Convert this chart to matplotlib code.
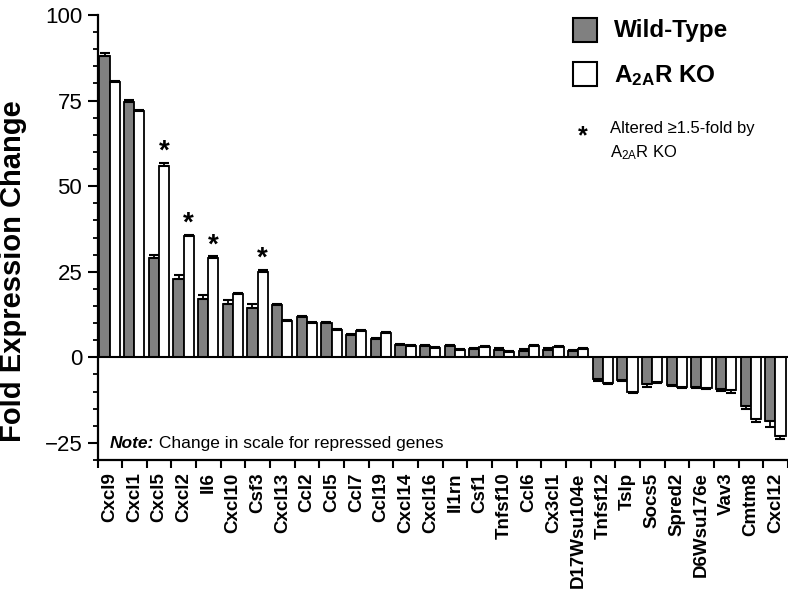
import numpy as np
import matplotlib
matplotlib.use("Agg")
import matplotlib.pyplot as plt
from matplotlib.patches import Rectangle
from matplotlib.ticker import MultipleLocator

plt.rcParams['font.family'] = ['Liberation Sans', 'DejaVu Sans']
plt.rcParams['mathtext.fontset'] = 'custom'
plt.rcParams['mathtext.rm'] = 'Liberation Sans'
plt.rcParams['mathtext.bf'] = 'Liberation Sans:bold'
plt.rcParams['mathtext.it'] = 'Liberation Sans:italic'

# data
genes = ['Cxcl9', 'Cxcl1', 'Cxcl5', 'Cxcl2', 'Il6', 'Cxcl10', 'Csf3', 'Cxcl13',
         'Ccl2', 'Ccl5', 'Ccl7', 'Ccl19', 'Cxcl14', 'Cxcl16', 'Il1rn', 'Csf1',
         'Tnfsf10', 'Ccl6', 'Cx3cl1', 'D17Wsu104e', 'Tnfsf12', 'Tslp', 'Socs5',
         'Spred2', 'D6Wsu176e', 'Vav3', 'Cmtm8', 'Cxcl12']
wt = [88, 74.5, 29, 23, 17, 15.7, 14.5, 15.3, 11.7, 10, 6.6, 5.4, 3.6, 3.4,
      3.2, 2.5, 2.2, 1.7, 2.2, 1.7, -6.3, -6.6, -7.8, -8.0, -8.6, -9.4, -14.2, -18.6]
wt_err = [1, 0.7, 1, 1, 1.2, 1, 1, 0.4, 0.3, 0.3, 0.3, 0.3, 0.3, 0.3,
          0.4, 0.3, 0.4, 0.8, 0.5, 0.3, 0.7, 0.3, 0.8, 0.3, 0.3, 0.3, 1, 1.9]
ko = [80.5, 72, 55.8, 35.5, 29, 18.6, 25, 10.5, 10, 8.1, 7.8, 7.2, 3.4, 2.7,
      2.2, 2.9, 1.5, 3.3, 2.9, 2.3, -7.4, -10.1, -7.3, -8.6, -9.0, -9.5, -18.1, -23]
ko_err = [0.3, 0.3, 1, 0.3, 0.5, 0.3, 0.5, 0.3, 0.3, 0.3, 0.3, 0.3, 0.3, 0.3,
          0.3, 0.3, 0.3, 0.3, 0.3, 0.3, 0.3, 0.3, 0.3, 0.3, 0.3, 0.8, 0.7, 1]
starred = ['Cxcl5', 'Cxcl2', 'Il6', 'Csf3']


def one_sided(vals, errs):
    # error bars go away from zero only
    lo = [e if v < 0 else 0 for v, e in zip(vals, errs)]
    hi = [e if v >= 0 else 0 for v, e in zip(vals, errs)]
    return [lo, hi]


fig = plt.figure(figsize=(7.88, 5.94), dpi=100)
ax = fig.add_axes([97.5 / 788, 1 - 460 / 594, 690.5 / 788, 445 / 594])

x = np.arange(len(genes))
bw = 0.41
ax.bar(x + 0.08, wt, bw, align='edge', color='#808080', edgecolor='black', linewidth=1.3, zorder=2)
ax.bar(x + 0.08 + bw, ko, bw, align='edge', color='white', edgecolor='black', linewidth=1.3, zorder=2)
ax.errorbar(x + 0.08 + bw / 2, wt, yerr=one_sided(wt, wt_err), fmt='none', ecolor='black',
            elinewidth=1.3, capsize=3.5, capthick=1.5, zorder=3)
ax.errorbar(x + 0.08 + 1.5 * bw, ko, yerr=one_sided(ko, ko_err), fmt='none', ecolor='black',
            elinewidth=1.3, capsize=3.5, capthick=1.5, zorder=3)
ax.axhline(0, color='black', lw=1.5, zorder=4)

for g in starred:
    i = genes.index(g)
    ax.text(i + 0.08 + 1.5 * bw, ko[i] + ko_err[i] + 1.2, '*', ha='center', va='baseline',
            fontsize=20, fontweight='bold', zorder=5)

ax.set_xlim(0, len(genes))
ax.set_ylim(-30, 100)
for s in ['top', 'right']:
    ax.spines[s].set_visible(False)
ax.spines['left'].set_bounds(-30, 100)
for s in ['left', 'bottom']:
    ax.spines[s].set_linewidth(1.6)

ax.yaxis.set_major_locator(MultipleLocator(25))
ax.yaxis.set_minor_locator(MultipleLocator(5))
ax.tick_params(axis='y', which='major', length=7.5, width=1.5, labelsize=16, pad=3.5)
ax.tick_params(axis='y', which='minor', length=3.5, width=1.3)

ax.set_xticks(np.arange(len(genes) + 1))
ax.set_xticklabels([])
ax.set_xticks(x + 0.5, minor=True)
ax.set_xticklabels(genes, minor=True, rotation=90, fontsize=13.5, fontweight='bold')
ax.tick_params(axis='x', which='major', length=6, width=1.5)
ax.tick_params(axis='x', which='minor', length=0, pad=9)

fig.text(0.016, 1 - 271 / 594, 'Fold Expression Change', rotation=90, ha='center', va='center',
         fontsize=21, fontweight='bold')

# note
t1 = ax.text(0.5, -25.3, 'Note:', fontsize=12.5, fontweight='bold', fontstyle='italic', va='center')
ax.annotate(' Change in scale for repressed genes', xy=(1, 0), xycoords=t1, va='bottom',
            fontsize=12.5)

# legend
def fx(px):
    return px / 788


def fy(py):
    return 1 - py / 594


fig.add_artist(Rectangle((fx(573), fy(42)), 24 / 788, 24 / 594, transform=fig.transFigure,
                         facecolor='#808080', edgecolor='black', lw=1.5))
fig.add_artist(Rectangle((fx(573), fy(86)), 24 / 788, 24 / 594, transform=fig.transFigure,
                         facecolor='white', edgecolor='black', lw=1.5))
fig.text(fx(614), fy(31), 'Wild-Type', fontsize=17.5, fontweight='bold', va='center')
fig.text(fx(614), fy(76), r'A$_{\mathbf{2A}}$R KO', fontsize=17.5, fontweight='bold', va='center')
fig.text(fx(583), fy(143), '*', fontsize=18, fontweight='bold', ha='center', va='baseline')
fig.text(fx(610), fy(128), '\u2265'.join(['Altered ', '1.5-fold by']), fontsize=12, va='center')
fig.text(fx(610), fy(153), r'A$_{\mathrm{2A}}$R KO', fontsize=12, va='center')

fig.savefig('out.png', dpi=100)
